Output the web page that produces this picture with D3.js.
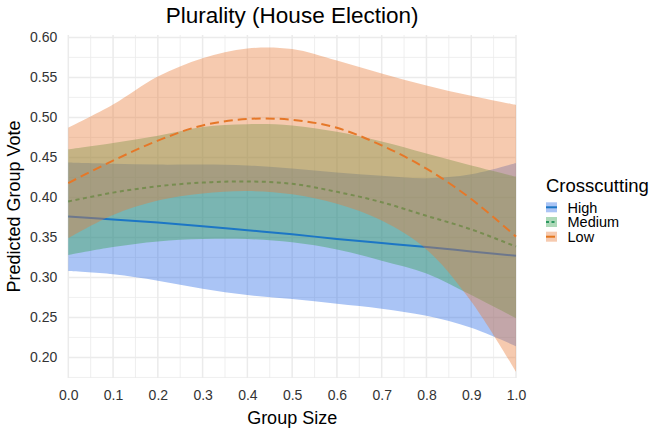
<!DOCTYPE html>
<html>
<head>
<meta charset="utf-8">
<script src="https://cdn.jsdelivr.net/npm/d3@7"></script>
<style>
  body { margin: 0; background: #fff; }
  text { font-family: "Liberation Sans", Arial, sans-serif; }
</style>
</head>
<body>
<script>
// values
var groupSize = [0, 0.1, 0.2, 0.3, 0.4, 0.5, 0.6, 0.7, 0.8, 0.9, 1.0];

var highFit   = [0.376, 0.3725, 0.3685, 0.364, 0.359, 0.354, 0.348, 0.343, 0.338, 0.3325, 0.327];
var highLower = [0.308, 0.304, 0.296, 0.286, 0.278, 0.273, 0.267, 0.261, 0.252, 0.237, 0.214];
var highUpper = [0.4435, 0.442, 0.441, 0.441, 0.440, 0.436, 0.431, 0.427, 0.424, 0.429, 0.443];

var mediumFit   = [0.395, 0.406, 0.414, 0.4185, 0.420, 0.417, 0.407, 0.394, 0.377, 0.360, 0.3385];
var mediumLower = [0.328, 0.338, 0.345, 0.348, 0.348, 0.344, 0.335, 0.321, 0.305, 0.278, 0.249];
var mediumUpper = [0.460, 0.468, 0.477, 0.488, 0.4915, 0.490, 0.482, 0.470, 0.455, 0.440, 0.426];

var lowFit   = [0.418, 0.446, 0.471, 0.490, 0.498, 0.497, 0.487, 0.465, 0.436, 0.398, 0.351];
var lowLower = [0.349, 0.378, 0.396, 0.405, 0.408, 0.404, 0.392, 0.371, 0.335, 0.270, 0.182];
var lowUpper = [0.487, 0.516, 0.551, 0.574, 0.5862, 0.5855, 0.571, 0.555, 0.540, 0.527, 0.5156];

var levels = ["High", "Medium", "Low"];
var xTicks = [0, 0.1, 0.2, 0.3, 0.4, 0.5, 0.6, 0.7, 0.8, 0.9, 1.0];
var yTicks = [0.20, 0.25, 0.30, 0.35, 0.40, 0.45, 0.50, 0.55, 0.60];

var width = 657, height = 434;
var panel = { left: 68.3, right: 516, top: 35, bottom: 378 };

var fills = { High: "#2a6be6", Medium: "#32a14d", Low: "#e87a37" };
var strokes = { High: "#1c76c5", Medium: "#2d9861", Low: "#e4761e" };
var dashes = { High: null, Medium: "4,3.5", Low: "9,5" };
var keyDashes = { High: null, Medium: "3,2.5", Low: "9,5" };
var fill_alpha = 0.4;

function make_rows(fit, lower, upper) {
    return groupSize.map(function(g, i) {
        return { x: g, fit: fit[i], lo: lower[i], hi: upper[i] };
    });
}

var series = {
    High: make_rows(highFit, highLower, highUpper),
    Medium: make_rows(mediumFit, mediumLower, mediumUpper),
    Low: make_rows(lowFit, lowLower, lowUpper)
};

var x = d3.scaleLinear().domain([0, 1]).range([panel.left, panel.right]);
var y = d3.scaleLinear().domain([0.1743, 0.603]).range([panel.bottom, panel.top]);

var svg = d3.select('body')
    .append('svg')
    .attr('width', width)
    .attr('height', height);

// grid
var grid = svg.append('g').attr('id', 'grid');
var xMinor = d3.range(0.05, 1, 0.1);
var yMinor = d3.range(0.175, 0.6, 0.05);

function vgrid(data, w) {
    grid.append('g').selectAll('line').data(data).enter()
        .append('line')
        .attr('x1', function(d) { return x(d); })
        .attr('x2', function(d) { return x(d); })
        .attr('y1', panel.top)
        .attr('y2', panel.bottom)
        .attr('stroke', '#ebebeb')
        .attr('stroke-width', w);
}
function hgrid(data, w) {
    grid.append('g').selectAll('line').data(data).enter()
        .append('line')
        .attr('x1', panel.left)
        .attr('x2', panel.right)
        .attr('y1', function(d) { return y(d); })
        .attr('y2', function(d) { return y(d); })
        .attr('stroke', '#ebebeb')
        .attr('stroke-width', w);
}
vgrid(xMinor, 0.8);
hgrid(yMinor, 0.8);
vgrid(xTicks, 1.5);
hgrid(yTicks, 1.5);

var line = d3.line()
    .x(function(d) { return x(d.x); })
    .y(function(d) { return y(d.fit); })
    .curve(d3.curveCatmullRom);

var area = d3.area()
    .x(function(d) { return x(d.x); })
    .y0(function(d) { return y(d.lo); })
    .y1(function(d) { return y(d.hi); })
    .curve(d3.curveCatmullRom);

var marks = svg.append('g').attr('id', 'marks');

function draw_ribbon(lev) {
    marks.append('path')
        .datum(series[lev])
        .attr('d', area)
        .attr('fill', fills[lev])
        .attr('fill-opacity', fill_alpha)
        .attr('stroke', 'none');
}
function draw_line(lev) {
    marks.append('path')
        .datum(series[lev])
        .attr('d', line)
        .attr('fill', 'none')
        .attr('stroke', strokes[lev])
        .attr('stroke-width', 2)
        .attr('stroke-dasharray', dashes[lev]);
}

// layer order as seen in the picture: the Low ribbon sits over the lines
draw_ribbon('High');
draw_ribbon('Medium');
levels.forEach(draw_line);
draw_ribbon('Low');

// axes
svg.append('g')
    .attr('transform', `translate(0, ${panel.bottom + 6})`)
    .call(d3.axisBottom(x).tickValues(xTicks).tickFormat(d3.format('.1f')).tickSize(0).tickPadding(6));
svg.append('g')
    .attr('transform', `translate(${panel.left - 8}, 0)`)
    .call(d3.axisLeft(y).tickValues(yTicks).tickFormat(d3.format('.2f')).tickSize(0).tickPadding(3));

svg.selectAll('.domain').remove();
svg.selectAll('.tick text')
    .style('font-family', '"Liberation Sans", Arial, sans-serif')
    .style('font-size', '14px')
    .attr('fill', '#333');

// titles
svg.append('text')
    .attr('x', (panel.left + panel.right) / 2)
    .attr('y', 23)
    .attr('text-anchor', 'middle')
    .style('font-size', '22.5px')
    .attr('fill', '#000')
    .text('Plurality (House Election)');

svg.append('text')
    .attr('x', (panel.left + panel.right) / 2)
    .attr('y', 424)
    .attr('text-anchor', 'middle')
    .style('font-size', '18px')
    .attr('fill', '#000')
    .text('Group Size');

svg.append('text')
    .attr('transform', `translate(19.5, ${(panel.top + panel.bottom) / 2}) rotate(-90)`)
    .attr('text-anchor', 'middle')
    .style('font-size', '18px')
    .attr('fill', '#000')
    .text('Predicted Group Vote');

// legend
var legend = svg.append('g')
    .attr('id', 'legend')
    .attr('transform', 'translate(546, 0)');

legend.append('text')
    .attr('x', 0)
    .attr('y', 191.5)
    .style('font-size', '18.5px')
    .attr('fill', '#000')
    .text('Crosscutting');

var keys = legend.selectAll('g.key').data(levels).enter()
    .append('g')
    .attr('class', 'key')
    .attr('transform', function(d, i) { return `translate(0, ${207.3 + i * 14.7})`; });

keys.append('rect')
    .attr('x', 0)
    .attr('y', -5)
    .attr('width', 11)
    .attr('height', 10)
    .attr('fill', function(d) { return fills[d]; })
    .attr('fill-opacity', fill_alpha);

keys.append('line')
    .attr('x1', 0)
    .attr('x2', 11)
    .attr('y1', 0)
    .attr('y2', 0)
    .attr('stroke', function(d) { return strokes[d]; })
    .attr('stroke-width', 2)
    .attr('stroke-dasharray', function(d) { return keyDashes[d]; });

keys.append('text')
    .attr('x', 21.5)
    .attr('y', 5.3)
    .style('font-size', '14.5px')
    .attr('fill', '#000')
    .text(function(d) { return d; });
</script>
</body>
</html>
